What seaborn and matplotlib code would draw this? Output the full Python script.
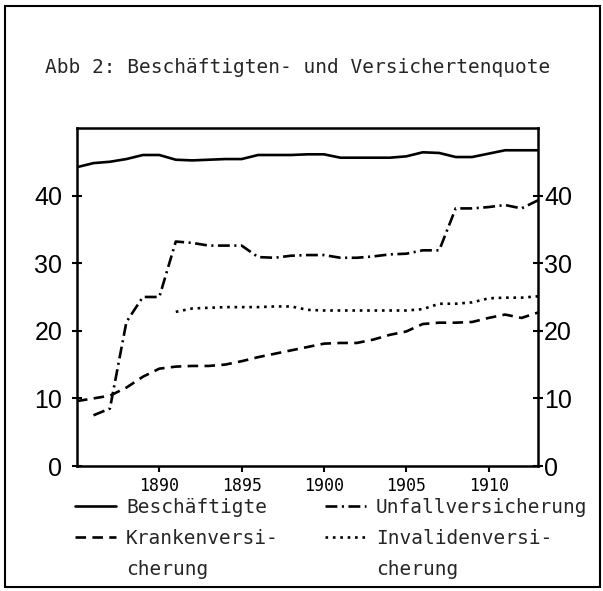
import matplotlib
matplotlib.use("Agg")
import matplotlib.pyplot as plt
import seaborn as sns
import pandas as pd
from matplotlib.lines import Line2D
from matplotlib.patches import Rectangle

# ---- data ----
years_beschaeftigte = list(range(1885, 1914))
beschaeftigte = [44.2, 44.8, 45.0, 45.4, 46.0, 46.0, 45.3, 45.2, 45.3, 45.4,
                 45.4, 46.0, 46.0, 46.0, 46.1, 46.1, 45.6, 45.6, 45.6, 45.6,
                 45.8, 46.4, 46.3, 45.7, 45.7, 46.2, 46.7, 46.7, 46.7]

years_kranken = list(range(1885, 1914))
kranken = [9.6, 10.0, 10.4, 11.6, 13.2, 14.4, 14.7, 14.8, 14.8, 15.0,
           15.5, 16.1, 16.6, 17.1, 17.6, 18.1, 18.2, 18.2, 18.7, 19.4,
           19.9, 21.0, 21.2, 21.2, 21.3, 21.9, 22.4, 21.9, 22.7]

years_unfall = list(range(1886, 1914))
unfall = [7.5, 8.5, 21.3, 25.0, 25.0, 33.2, 33.0, 32.6, 32.6, 32.6,
          30.9, 30.8, 31.1, 31.2, 31.2, 30.8, 30.8, 31.0, 31.3, 31.4,
          31.9, 31.9, 38.1, 38.1, 38.3, 38.6, 38.1, 39.3]

years_invaliden = list(range(1891, 1914))
invaliden = [22.8, 23.3, 23.4, 23.5, 23.5, 23.5, 23.6, 23.6, 23.1, 23.0,
             23.0, 23.0, 23.0, 23.0, 23.0, 23.2, 24.0, 24.0, 24.2, 24.8,
             24.9, 24.9, 25.1]

title = "Abb 2: Beschäftigten- und Versichertenquote"
x_ticks = [1890, 1895, 1900, 1905, 1910]
y_ticks = [0, 10, 20, 30, 40]
labels = ["Beschäftigte", "Krankenversi-", "cherung",
          "Unfallversicherung", "Invalidenversi-", "cherung"]

# ---- styling ----
sns.set_style("ticks")
plt.rcParams['font.family'] = ['DejaVu Sans Mono']
MONO = ['DejaVu Sans Mono']

fig = plt.figure(figsize=(6.03, 5.91), dpi=100)
ax = fig.add_axes([0.1277, 0.2115, 0.7645, 0.572])

LW = 1.9
style_solid = '-'
style_dash = (0, (4.0, 2.4))
style_dashdot = (0, (4.5, 1.7, 0.8, 1.7))
style_dot = (0, (1.0, 1.8))

sns.lineplot(x=years_beschaeftigte, y=beschaeftigte, ax=ax, color='black',
             lw=LW, linestyle=style_solid)
sns.lineplot(x=years_kranken, y=kranken, ax=ax, color='black',
             lw=LW, linestyle=style_dash)
sns.lineplot(x=years_unfall, y=unfall, ax=ax, color='black',
             lw=LW, linestyle=style_dashdot)
sns.lineplot(x=years_invaliden, y=invaliden, ax=ax, color='black',
             lw=LW, linestyle=style_dot)

ax.set_xlim(1885, 1913)
ax.set_ylim(0, 50)
ax.set_xticks(x_ticks)
ax.set_xticklabels([str(t) for t in x_ticks])
ax.set_yticks(y_ticks)
ax.set_yticklabels([str(t) for t in y_ticks])
ax.set_xlabel("")
ax.set_ylabel("")
for s in ax.spines.values():
    s.set_visible(True)
    s.set_linewidth(1.8)
    s.set_color('black')

ax.tick_params(axis='x', direction='out', length=4, width=1.5, pad=4,
               labelsize=12, labelfontfamily='DejaVu Sans Mono', colors='black')
ax.tick_params(axis='y', direction='inout', length=7, width=1.5, pad=7,
               labelsize=18, labelfontfamily='Liberation Sans', colors='black')

ax2 = ax.twinx()
ax2.set_ylim(0, 50)
ax2.set_yticks(y_ticks)
ax2.set_yticklabels([str(t) for t in y_ticks])
for s in ax2.spines.values():
    s.set_visible(False)
ax2.tick_params(axis='y', direction='inout', length=7, width=1.5, pad=1,
                labelsize=18, labelfontfamily='Liberation Sans', colors='black')
ax2.set_ylabel("")

# ---- legend ----
blank = Line2D([], [], color='none')
handles = [Line2D([], [], color='black', lw=LW, linestyle=style_solid),
           Line2D([], [], color='black', lw=LW, linestyle=style_dash),
           blank,
           Line2D([], [], color='black', lw=LW, linestyle=style_dashdot),
           Line2D([], [], color='black', lw=LW, linestyle=style_dot),
           blank]
fig.legend(handles, labels, loc='upper left', bbox_to_anchor=(0.125, 0.158),
           ncol=2, frameon=False, prop={'family': MONO, 'size': 14},
           handlelength=2.1, handletextpad=0.5, columnspacing=2.4,
           labelspacing=0.62, borderpad=0, borderaxespad=0)

fig.text(0.0746, 0.8866, title, ha='left', va='center', fontsize=14,
         family=MONO)

fig.patches.append(Rectangle((0.0083, 0.0068), 0.9867, 0.983,
                             transform=fig.transFigure, fill=False,
                             lw=1.5, edgecolor='black'))

fig.savefig('out.png', dpi=100)
